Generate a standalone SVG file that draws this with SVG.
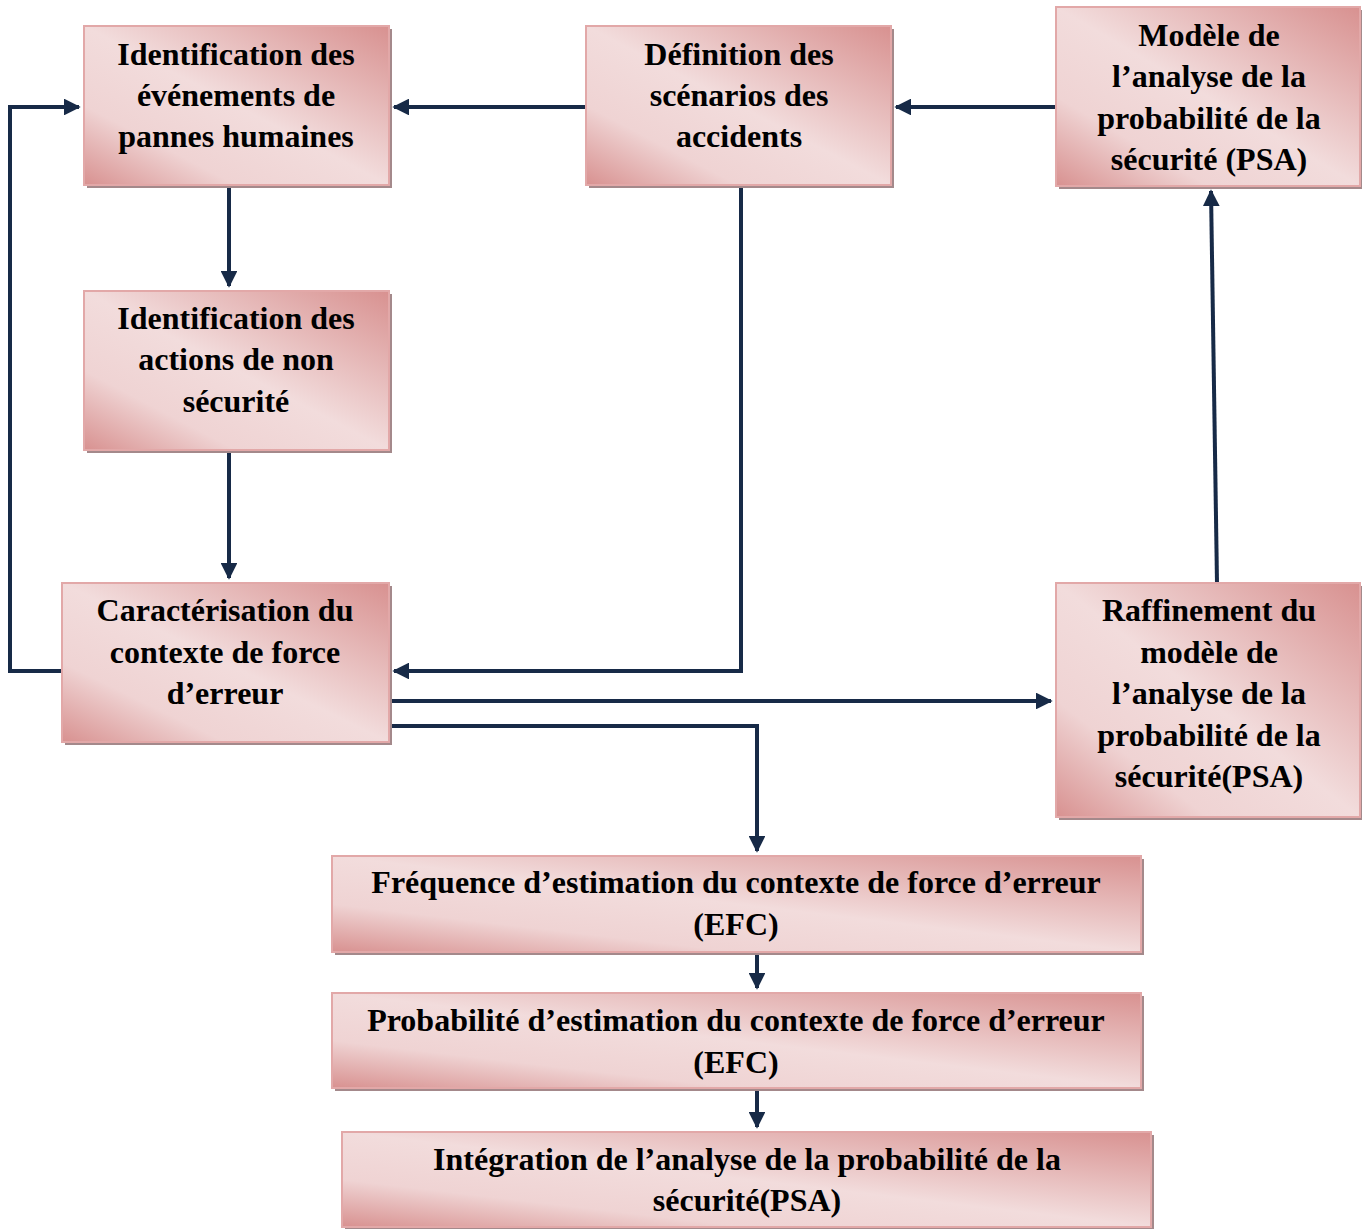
<svg xmlns="http://www.w3.org/2000/svg" width="1362" height="1229" viewBox="0 0 1362 1229">
<defs>
<linearGradient id="g" x1="1" y1="0" x2="0" y2="1">
<stop offset="0" stop-color="#d89190"/>
<stop offset="0.5" stop-color="#f2dcdc"/>
<stop offset="0.75" stop-color="#efd3d3"/>
<stop offset="1" stop-color="#d89190"/>
</linearGradient>
<marker id="a" viewBox="0 0 10 10" refX="9" refY="5" markerWidth="4.2" markerHeight="4.2" markerUnits="strokeWidth" orient="auto">
<path d="M0,0 L10,5 L0,10 z" fill="#172a47"/>
</marker>
<style>
.sh{fill:#a4898b}
.bx{fill:url(#g);stroke:#e2a8a8;stroke-width:2}
.t{font-family:"Liberation Serif","Times New Roman",serif;font-weight:bold;font-size:32px;fill:#000;text-anchor:middle}
.c{fill:none;stroke:#172a47;stroke-width:4}
</style>
</defs>
<rect width="1362" height="1229" fill="#fff"/>
<g id="connectors">
<path class="c" d="M586,107 H394" marker-end="url(#a)"/>
<path class="c" d="M1056,107 H896" marker-end="url(#a)"/>
<path class="c" d="M229,185 V286" marker-end="url(#a)"/>
<path class="c" d="M229,450 V578" marker-end="url(#a)"/>
<path class="c" d="M741,185 V671 H394" marker-end="url(#a)"/>
<path class="c" d="M62,671 H10 V107 H79" marker-end="url(#a)"/>
<path class="c" d="M389,701 H1051" marker-end="url(#a)"/>
<path class="c" d="M389,726 H757 V851" marker-end="url(#a)"/>
<path class="c" d="M1217,583 L1211,191" marker-end="url(#a)"/>
<path class="c" d="M757,952 V988" marker-end="url(#a)"/>
<path class="c" d="M757,1088 V1127" marker-end="url(#a)"/>
</g>
<g id="n1">
<rect class="sh" x="87" y="29" width="305" height="159"/>
<rect class="bx" x="84" y="26" width="305" height="159"/>
<text class="t" x="236"><tspan x="236" y="65">Identification des</tspan><tspan x="236" y="106">événements de</tspan><tspan x="236" y="147">pannes humaines</tspan></text>
</g>
<g id="n2">
<rect class="sh" x="589" y="29" width="305" height="159"/>
<rect class="bx" x="586" y="26" width="305" height="159"/>
<text class="t"><tspan x="739" y="65">Définition des</tspan><tspan x="739" y="106">scénarios des</tspan><tspan x="739" y="147">accidents</tspan></text>
</g>
<g id="n3">
<rect class="sh" x="1059" y="10" width="304" height="179"/>
<rect class="bx" x="1056" y="7" width="304" height="179"/>
<text class="t"><tspan x="1209" y="46">Modèle de</tspan><tspan x="1209" y="87">l’analyse de la</tspan><tspan x="1209" y="129">probabilité de la</tspan><tspan x="1209" y="170">sécurité (PSA)</tspan></text>
</g>
<g id="n4">
<rect class="sh" x="87" y="294" width="305" height="159"/>
<rect class="bx" x="84" y="291" width="305" height="159"/>
<text class="t"><tspan x="236" y="329">Identification des</tspan><tspan x="236" y="370">actions de non</tspan><tspan x="236" y="412">sécurité</tspan></text>
</g>
<g id="n5">
<rect class="sh" x="65" y="586" width="327" height="159"/>
<rect class="bx" x="62" y="583" width="327" height="159"/>
<text class="t"><tspan x="225" y="621">Caractérisation du</tspan><tspan x="225" y="663">contexte de force</tspan><tspan x="225" y="704">d’erreur</tspan></text>
</g>
<g id="n6">
<rect class="sh" x="1059" y="586" width="304" height="234"/>
<rect class="bx" x="1056" y="583" width="304" height="234"/>
<text class="t"><tspan x="1209" y="621">Raffinement du</tspan><tspan x="1209" y="663">modèle de</tspan><tspan x="1209" y="704">l’analyse de la</tspan><tspan x="1209" y="746">probabilité de la</tspan><tspan x="1209" y="787">sécurité(PSA)</tspan></text>
</g>
<g id="n7">
<rect class="sh" x="335" y="859" width="809" height="96"/>
<rect class="bx" x="332" y="856" width="809" height="96"/>
<text class="t"><tspan x="736" y="893">Fréquence d’estimation du contexte de force d’erreur</tspan><tspan x="736" y="935">(EFC)</tspan></text>
</g>
<g id="n8">
<rect class="sh" x="335" y="996" width="809" height="95"/>
<rect class="bx" x="332" y="993" width="809" height="95"/>
<text class="t"><tspan x="736" y="1031">Probabilité d’estimation du contexte de force d’erreur</tspan><tspan x="736" y="1073">(EFC)</tspan></text>
</g>
<g id="n9">
<rect class="sh" x="345" y="1135" width="809" height="94"/>
<rect class="bx" x="342" y="1132" width="809" height="95"/>
<text class="t"><tspan x="747" y="1170">Intégration de l’analyse de la probabilité de la</tspan><tspan x="747" y="1211">sécurité(PSA)</tspan></text>
</g>
</svg>
